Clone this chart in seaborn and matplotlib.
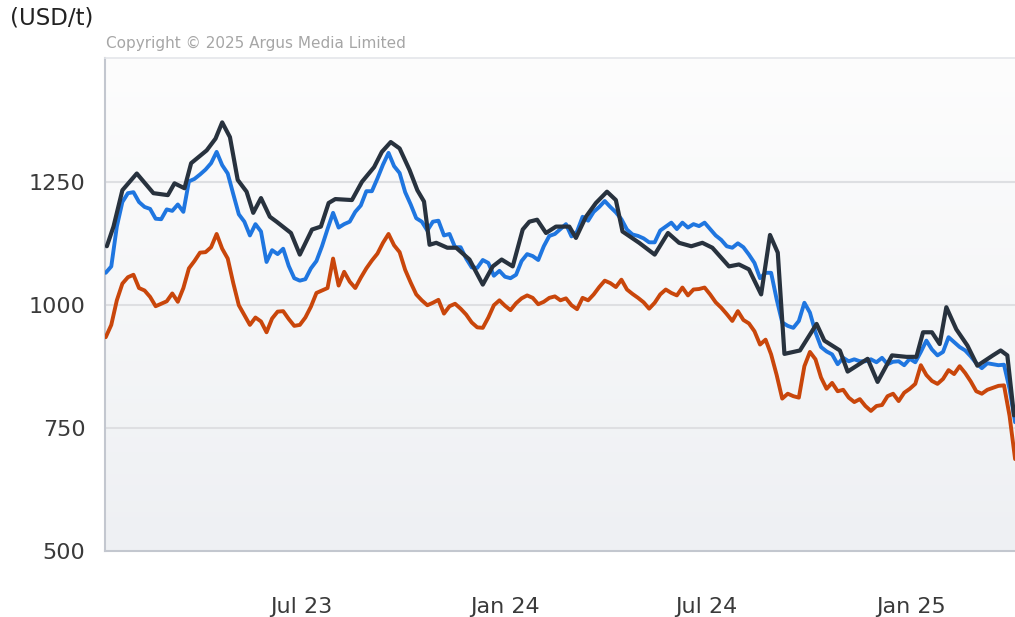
import numpy as np
import pandas as pd
import matplotlib
matplotlib.use("Agg")
import matplotlib.pyplot as plt
import matplotlib.dates as mdates
import seaborn as sns

# price series (USD/t)
# blue and orange share a 5-day grid starting 2023-01-06
grid_start = "2023-01-06"
blue_values = [
    1066, 1079, 1160, 1210, 1228, 1230, 1210, 1200, 1196, 1176,
    1175, 1195, 1192, 1205, 1190, 1252, 1257, 1266, 1276, 1289,
    1312, 1285, 1268, 1226, 1185, 1170, 1142, 1165, 1150, 1088,
    1112, 1104, 1115, 1080, 1055, 1050, 1053, 1075, 1090, 1120,
    1155, 1188, 1158, 1165, 1170, 1190, 1203, 1232, 1232, 1258,
    1286, 1310, 1283, 1269, 1230, 1205, 1177, 1170, 1152, 1170,
    1172, 1142, 1145, 1118, 1118, 1095, 1077, 1076, 1092, 1086,
    1060, 1070, 1058, 1055, 1062, 1090, 1104, 1100, 1092, 1120,
    1141, 1145, 1155, 1165, 1140, 1150, 1180, 1172, 1190, 1200,
    1212, 1200, 1189, 1175, 1154, 1144, 1141, 1136, 1128, 1128,
    1152, 1160, 1168, 1155, 1168, 1158, 1165, 1161, 1168, 1155,
    1142, 1133, 1120, 1117, 1126, 1118, 1103, 1086, 1055, 1066,
    1066, 1012, 965, 958, 954, 968, 1005, 985, 945, 915,
    906, 900, 880, 893, 886, 890, 886, 886, 890, 884,
    893, 880, 885, 886, 878, 891, 884, 905, 928, 910,
    898, 905, 935, 925, 915, 908, 896, 882, 872, 882,
    880, 878, 879, 830, 762,
]
orange_values = [
    935, 960, 1010, 1044, 1057, 1062, 1035, 1030, 1017, 998,
    1003, 1008, 1024, 1007, 1035, 1075, 1090, 1107, 1108, 1118,
    1145, 1115, 1095, 1045, 1000, 980, 960, 975, 967, 945,
    973, 987, 988, 972, 958, 960, 975, 997, 1025, 1030,
    1035, 1095, 1040, 1068, 1048, 1035, 1056, 1075, 1091, 1105,
    1127, 1145, 1122, 1108, 1072, 1046, 1022, 1010, 1000, 1005,
    1011, 983, 998, 1003, 993, 981, 965, 955, 954, 975,
    1000, 1010, 999, 990, 1004, 1014, 1020, 1015, 1002, 1007,
    1015, 1018, 1010, 1014, 1000, 992, 1015, 1010, 1022, 1037,
    1050, 1045, 1037, 1052, 1032, 1023, 1015, 1006, 993, 1005,
    1022, 1032, 1025, 1020, 1036, 1020, 1032, 1033, 1036, 1022,
    1006, 995, 982, 968, 988, 970, 963, 947, 920, 930,
    900, 858, 810, 820, 815, 812, 876, 905, 890, 853,
    830, 842, 825, 828, 812, 803, 809, 795, 785, 795,
    797, 815, 820, 805, 822, 830, 840, 878, 858, 846,
    840, 850, 868, 860, 876, 862, 845, 825, 820, 828,
    832, 836, 837, 775, 687,
]

# dark series is sparser (own dates)
dark_dates = [
    "2023-01-07", "2023-01-13", "2023-01-21", "2023-02-03", "2023-02-18",
    "2023-03-03", "2023-03-09", "2023-03-18", "2023-03-24", "2023-04-07",
    "2023-04-15", "2023-04-21", "2023-04-28", "2023-05-05", "2023-05-13",
    "2023-05-19", "2023-05-26", "2023-06-03", "2023-06-09", "2023-06-22",
    "2023-06-30", "2023-07-11", "2023-07-19", "2023-07-26", "2023-08-01",
    "2023-08-16", "2023-08-25", "2023-09-05", "2023-09-12", "2023-09-20",
    "2023-09-28", "2023-10-07", "2023-10-14", "2023-10-20", "2023-10-25",
    "2023-10-31", "2023-11-10", "2023-11-18", "2023-11-30", "2023-12-12",
    "2023-12-21", "2023-12-29", "2024-01-08", "2024-01-17", "2024-01-23",
    "2024-01-30", "2024-02-07", "2024-02-16", "2024-02-28", "2024-03-05",
    "2024-03-14", "2024-03-23", "2024-04-02", "2024-04-10", "2024-04-16",
    "2024-05-01", "2024-05-15", "2024-05-27", "2024-06-06", "2024-06-17",
    "2024-06-27", "2024-07-06", "2024-07-21", "2024-07-30", "2024-08-08",
    "2024-08-19", "2024-08-27", "2024-09-03", "2024-09-09", "2024-09-23",
    "2024-10-08", "2024-10-15", "2024-10-29", "2024-11-05", "2024-11-23",
    "2024-12-02", "2024-12-15", "2024-12-28", "2025-01-06", "2025-01-12",
    "2025-01-20", "2025-01-27", "2025-02-02", "2025-02-11", "2025-02-21",
    "2025-03-02", "2025-03-16", "2025-03-23", "2025-03-29", "2025-04-04",
]
dark_values = [
    1120, 1160, 1234, 1268, 1228, 1224, 1248, 1238, 1289, 1315,
    1339, 1372, 1342, 1255, 1231, 1188, 1218, 1180, 1170, 1147,
    1103, 1154, 1160, 1208, 1216, 1214, 1251, 1281, 1312, 1332,
    1319, 1275, 1234, 1211, 1123, 1127, 1117, 1117, 1093, 1042,
    1079, 1093, 1079, 1154, 1170, 1174, 1147, 1160, 1160, 1137,
    1180, 1208, 1231, 1214, 1150, 1127, 1103, 1147, 1127, 1120,
    1127, 1117, 1079, 1083, 1073, 1022, 1143, 1107, 901, 908,
    962, 928, 908, 865, 891, 844, 898, 895, 895, 945,
    945, 921, 996, 951, 918, 877, 898, 908, 898, 776,
]

tick_dates = ["2023-07-01", "2024-01-01", "2024-07-01", "2025-01-01"]
y_ticks = [500, 750, 1000, 1250]

grid_dates = pd.date_range(grid_start, periods=len(blue_values), freq="5D")
daily_df = pd.DataFrame({"date": grid_dates, "blue": blue_values, "orange": orange_values})
dark_df = pd.DataFrame({"date": pd.to_datetime(dark_dates), "value": dark_values})

sns.set_theme(style="white")
plt.rcParams["font.family"] = ["DejaVu Sans"]

fig = plt.figure(figsize=(10.15, 6.17), dpi=100)
ax = fig.add_axes([105 / 1015, 1 - 551 / 617, 1 - 105 / 1015, (551 - 58) / 617])

# soft vertical gradient behind the plot
grad = np.linspace(0, 1, 256).reshape(-1, 1)
ax.imshow(grad, extent=[0, 1, 0, 1], transform=ax.transAxes, aspect="auto",
          cmap=matplotlib.colors.LinearSegmentedColormap.from_list("bg", ["#eef0f3", "#fdfdfd"]),
          origin="lower", zorder=0)

for v in [750, 1000, 1250]:
    ax.axhline(v, color="#dedfe2", lw=1.5, zorder=1)

sns.lineplot(data=daily_df, x="date", y="orange", ax=ax, color="#c9460b", lw=2.8, zorder=3)
sns.lineplot(data=daily_df, x="date", y="blue", ax=ax, color="#1f76e0", lw=2.8, zorder=4)
sns.lineplot(data=dark_df, x="date", y="value", ax=ax, color="#28323e", lw=3.0, zorder=5)

ax.set_xlim(pd.Timestamp("2023-01-05 08:00"), pd.Timestamp("2025-04-04 22:00"))
ax.set_ylim(500, 1503)
ax.set_yticks(y_ticks)
ax.set_xticks(pd.to_datetime(tick_dates))
ax.xaxis.set_major_formatter(mdates.DateFormatter("%b %y"))
ax.set_xlabel("")
ax.set_ylabel("")
ax.tick_params(axis="y", length=0, pad=14, labelsize=16, labelcolor="#3a3a3a")
ax.tick_params(axis="x", length=0, pad=33, labelsize=16, labelcolor="#3a3a3a")

for s in ["left", "bottom"]:
    ax.spines[s].set_color("#c3c7cf")
    ax.spines[s].set_linewidth(1.5)
ax.spines["top"].set_color("#e4e6ea")
ax.spines["top"].set_linewidth(1.2)
ax.spines["right"].set_visible(False)

fig.text(10 / 1015, 1 - 18 / 617, "(USD/t)", fontsize=16.5, color="#222222", va="center", ha="left")
fig.text(106 / 1015, 1 - 43 / 617, "Copyright \u00a9 2025 Argus Media Limited",
         fontsize=11, color="#a6a6a6", va="center", ha="left")

fig.savefig("out.png", dpi=100, facecolor="white")
